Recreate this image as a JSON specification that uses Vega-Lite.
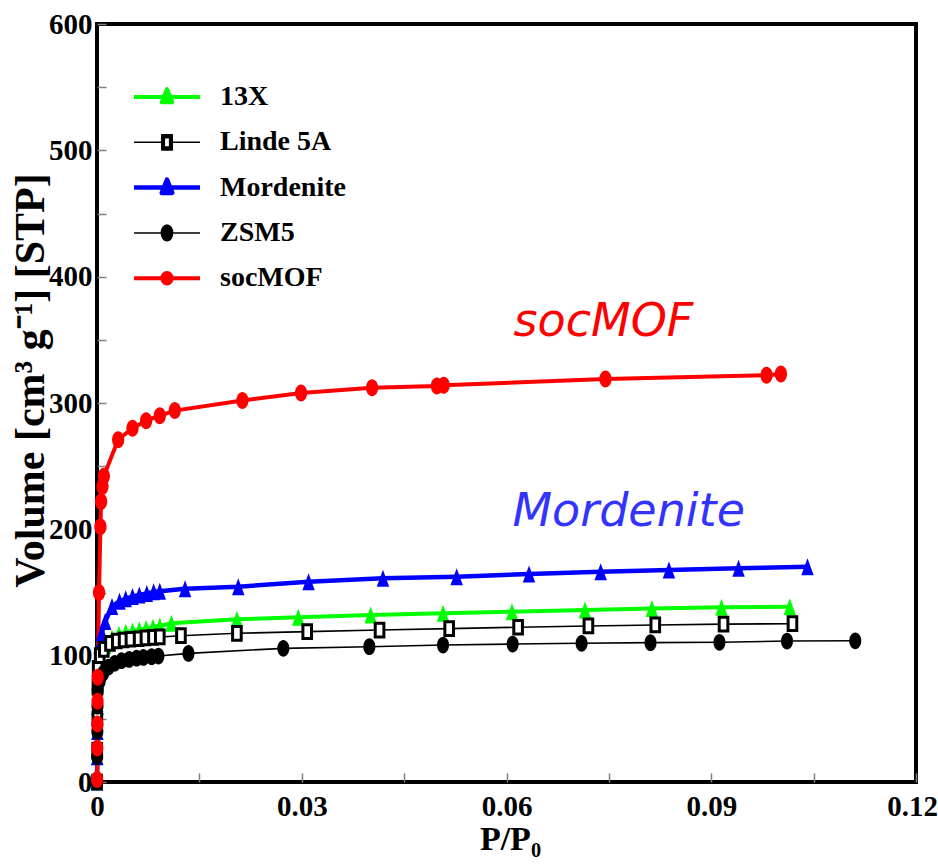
{
  "$schema": "https://vega.github.io/schema/vega-lite/v6.json",
  "width": 819,
  "height": 758,
  "autosize": {"type": "none"},
  "padding": {"left": 97, "top": 24, "right": 22, "bottom": 85},
  "background": "white",
  "config": {
    "view": {"stroke": "black", "strokeWidth": 4},
    "font": "Liberation Serif"
  },
  "data": {
    "values": [
      {"series": "13X", "x": 0.00001, "y": 0},
      {"series": "13X", "x": 0.00003, "y": 20},
      {"series": "13X", "x": 0.00005, "y": 40},
      {"series": "13X", "x": 0.00007, "y": 60},
      {"series": "13X", "x": 0.0001, "y": 80},
      {"series": "13X", "x": 0.0004, "y": 95},
      {"series": "13X", "x": 0.0012, "y": 108},
      {"series": "13X", "x": 0.0022, "y": 114},
      {"series": "13X", "x": 0.0032, "y": 117},
      {"series": "13X", "x": 0.0042, "y": 118.5},
      {"series": "13X", "x": 0.0052, "y": 119.5},
      {"series": "13X", "x": 0.0062, "y": 120.5},
      {"series": "13X", "x": 0.0072, "y": 121.5},
      {"series": "13X", "x": 0.0082, "y": 122.5},
      {"series": "13X", "x": 0.0092, "y": 123.5},
      {"series": "13X", "x": 0.0109, "y": 125.6},
      {"series": "13X", "x": 0.0205, "y": 128.8},
      {"series": "13X", "x": 0.0295, "y": 130.4},
      {"series": "13X", "x": 0.0401, "y": 132.2},
      {"series": "13X", "x": 0.0507, "y": 133.5},
      {"series": "13X", "x": 0.0608, "y": 134.8},
      {"series": "13X", "x": 0.0715, "y": 136.2},
      {"series": "13X", "x": 0.0813, "y": 137.4},
      {"series": "13X", "x": 0.0915, "y": 138.3},
      {"series": "13X", "x": 0.1015, "y": 138.8},

      {"series": "Linde 5A", "x": 0.00001, "y": 0},
      {"series": "Linde 5A", "x": 0.00003, "y": 25},
      {"series": "Linde 5A", "x": 0.00005, "y": 50},
      {"series": "Linde 5A", "x": 0.00007, "y": 75},
      {"series": "Linde 5A", "x": 0.0001, "y": 90},
      {"series": "Linde 5A", "x": 0.0004, "y": 100},
      {"series": "Linde 5A", "x": 0.001, "y": 105},
      {"series": "Linde 5A", "x": 0.0019, "y": 109.8},
      {"series": "Linde 5A", "x": 0.0029, "y": 111.6},
      {"series": "Linde 5A", "x": 0.0039, "y": 112.4},
      {"series": "Linde 5A", "x": 0.0049, "y": 113},
      {"series": "Linde 5A", "x": 0.0061, "y": 113.4},
      {"series": "Linde 5A", "x": 0.0071, "y": 114},
      {"series": "Linde 5A", "x": 0.0082, "y": 114.5},
      {"series": "Linde 5A", "x": 0.0092, "y": 114.8},
      {"series": "Linde 5A", "x": 0.0123, "y": 115.8},
      {"series": "Linde 5A", "x": 0.0205, "y": 117.7},
      {"series": "Linde 5A", "x": 0.0308, "y": 119},
      {"series": "Linde 5A", "x": 0.0414, "y": 120.3},
      {"series": "Linde 5A", "x": 0.0516, "y": 121.4},
      {"series": "Linde 5A", "x": 0.0617, "y": 122.5},
      {"series": "Linde 5A", "x": 0.072, "y": 123.5},
      {"series": "Linde 5A", "x": 0.0818, "y": 124.3},
      {"series": "Linde 5A", "x": 0.0918, "y": 125},
      {"series": "Linde 5A", "x": 0.1019, "y": 125.3},

      {"series": "Mordenite", "x": 0.00001, "y": 0},
      {"series": "Mordenite", "x": 0.00003, "y": 20},
      {"series": "Mordenite", "x": 0.00005, "y": 40},
      {"series": "Mordenite", "x": 0.00007, "y": 60},
      {"series": "Mordenite", "x": 0.0001, "y": 80},
      {"series": "Mordenite", "x": 0.0002, "y": 95},
      {"series": "Mordenite", "x": 0.0004, "y": 108},
      {"series": "Mordenite", "x": 0.0007, "y": 118},
      {"series": "Mordenite", "x": 0.0012, "y": 127},
      {"series": "Mordenite", "x": 0.0022, "y": 139},
      {"series": "Mordenite", "x": 0.0033, "y": 143},
      {"series": "Mordenite", "x": 0.0042, "y": 145},
      {"series": "Mordenite", "x": 0.0052, "y": 146.8},
      {"series": "Mordenite", "x": 0.0062, "y": 148},
      {"series": "Mordenite", "x": 0.0073, "y": 149.3},
      {"series": "Mordenite", "x": 0.0083, "y": 150.5},
      {"series": "Mordenite", "x": 0.0092, "y": 151},
      {"series": "Mordenite", "x": 0.0129, "y": 153},
      {"series": "Mordenite", "x": 0.0207, "y": 154.6},
      {"series": "Mordenite", "x": 0.031, "y": 158.6},
      {"series": "Mordenite", "x": 0.0419, "y": 161.2},
      {"series": "Mordenite", "x": 0.0527, "y": 162.5},
      {"series": "Mordenite", "x": 0.0633, "y": 164.6},
      {"series": "Mordenite", "x": 0.0738, "y": 166.5},
      {"series": "Mordenite", "x": 0.0838, "y": 167.8},
      {"series": "Mordenite", "x": 0.094, "y": 169.2},
      {"series": "Mordenite", "x": 0.1041, "y": 170.4},

      {"series": "ZSM5", "x": 0.00001, "y": 0},
      {"series": "ZSM5", "x": 0.00003, "y": 20},
      {"series": "ZSM5", "x": 0.00005, "y": 40},
      {"series": "ZSM5", "x": 0.00007, "y": 60},
      {"series": "ZSM5", "x": 0.0001, "y": 72},
      {"series": "ZSM5", "x": 0.0004, "y": 80},
      {"series": "ZSM5", "x": 0.0009, "y": 86},
      {"series": "ZSM5", "x": 0.0017, "y": 91},
      {"series": "ZSM5", "x": 0.0026, "y": 94},
      {"series": "ZSM5", "x": 0.0036, "y": 96},
      {"series": "ZSM5", "x": 0.0047, "y": 97},
      {"series": "ZSM5", "x": 0.0058, "y": 98},
      {"series": "ZSM5", "x": 0.0068, "y": 98.6},
      {"series": "ZSM5", "x": 0.008, "y": 99.2},
      {"series": "ZSM5", "x": 0.009, "y": 99.7},
      {"series": "ZSM5", "x": 0.0134, "y": 101.8},
      {"series": "ZSM5", "x": 0.0273, "y": 105.8},
      {"series": "ZSM5", "x": 0.0399, "y": 107.1},
      {"series": "ZSM5", "x": 0.0507, "y": 108.4},
      {"series": "ZSM5", "x": 0.0609, "y": 109.2},
      {"series": "ZSM5", "x": 0.071, "y": 109.8},
      {"series": "ZSM5", "x": 0.0811, "y": 110.3},
      {"series": "ZSM5", "x": 0.0912, "y": 110.6},
      {"series": "ZSM5", "x": 0.1011, "y": 111.6},
      {"series": "ZSM5", "x": 0.1111, "y": 111.8},

      {"series": "socMOF", "x": 0.00002, "y": 2},
      {"series": "socMOF", "x": 0.00004, "y": 27},
      {"series": "socMOF", "x": 0.00006, "y": 46},
      {"series": "socMOF", "x": 0.00008, "y": 64},
      {"series": "socMOF", "x": 0.0001, "y": 83},
      {"series": "socMOF", "x": 0.0003, "y": 150},
      {"series": "socMOF", "x": 0.0005, "y": 202},
      {"series": "socMOF", "x": 0.0006, "y": 222},
      {"series": "socMOF", "x": 0.0008, "y": 234},
      {"series": "socMOF", "x": 0.001, "y": 242},
      {"series": "socMOF", "x": 0.0031, "y": 271},
      {"series": "socMOF", "x": 0.0052, "y": 280},
      {"series": "socMOF", "x": 0.0072, "y": 286},
      {"series": "socMOF", "x": 0.0092, "y": 290},
      {"series": "socMOF", "x": 0.0114, "y": 294},
      {"series": "socMOF", "x": 0.0213, "y": 302},
      {"series": "socMOF", "x": 0.0299, "y": 308},
      {"series": "socMOF", "x": 0.0403, "y": 312},
      {"series": "socMOF", "x": 0.0498, "y": 313.5},
      {"series": "socMOF", "x": 0.0508, "y": 314},
      {"series": "socMOF", "x": 0.0745, "y": 319},
      {"series": "socMOF", "x": 0.0981, "y": 322},
      {"series": "socMOF", "x": 0.1002, "y": 323}
    ]
  },
  "layer": [
    {
      "encoding": {
        "x": {
          "field": "x",
          "type": "quantitative",
          "scale": {"domain": [0, 0.12], "nice": false, "zero": false},
          "axis": {
            "values": [0, 0.015, 0.03, 0.045, 0.06, 0.075, 0.09, 0.105, 0.12],
            "format": ".2~f",
            "labelExpr": "round(datum.value * 1000) % 30 === 0 ? datum.label : ''",
            "domain": false,
            "grid": false,
            "tickSize": -9,
            "tickWidth": 1.5,
            "tickColor": "#808080",
            "labelPadding": 19,
            "labelFont": "Liberation Serif",
            "labelFontWeight": "bold",
            "labelFontSize": 29,
            "labelColor": "black",
            "labelFlush": false,
            "labelOverlap": false,
            "labelOffset": {"condition": {"test": "datum.value > 0.11", "value": -4}, "value": 0},
            "title": "P/P₀",
            "titleFont": "Liberation Serif",
            "titleFontWeight": "bold",
            "titleFontSize": 34,
            "titleColor": "black",
            "titleX": 413,
            "titleY": 67,
            "titleAlign": "center",
            "titleBaseline": "alphabetic",
            "encode": {
              "ticks": {
                "update": {
                  "y2": {"signal": "round(datum.value * 1000) % 30 === 0 ? -9 : -6"},
                  "stroke": {"signal": "round(datum.value * 1000) % 30 === 0 ? '#808080' : '#ff5050'"}
                }
              }
            }
          }
        },
        "y": {
          "field": "y",
          "type": "quantitative",
          "scale": {"domain": [0, 600], "nice": false, "zero": false},
          "axis": {
            "values": [0, 50, 100, 150, 200, 250, 300, 350, 400, 450, 500, 550, 600],
            "format": "d",
            "labelExpr": "datum.value % 100 === 0 ? datum.label : ''",
            "domain": false,
            "grid": false,
            "tickSize": -9,
            "tickWidth": 1.5,
            "tickColor": "#808080",
            "labelPadding": 14,
            "labelFont": "Liberation Serif",
            "labelFontWeight": "bold",
            "labelFontSize": 29,
            "labelColor": "black",
            "labelFlush": false,
            "labelOverlap": false,
            "title": "Volume [cm³ g⁻¹] [STP]",
            "titleFont": "Liberation Serif",
            "titleFontWeight": "bold",
            "titleFontSize": 42,
            "titleColor": "black",
            "titleAngle": -90,
            "titleX": -67,
            "titleY": 356,
            "titleAlign": "center",
            "titleBaseline": "middle",
            "encode": {
              "ticks": {
                "update": {
                  "x2": {"signal": "datum.value % 100 === 0 ? 9 : 6"},
                  "stroke": {"signal": "datum.value % 100 === 0 ? '#808080' : '#ff5050'"}
                }
              }
            }
          }
        }
      },
      "layer": [
        {
          "transform": [{"filter": "datum.series === '13X'"}],
          "mark": {"type": "line", "strokeWidth": 4, "strokeCap": "butt"},
          "encoding": {
            "color": {
              "field": "series",
              "type": "nominal",
              "scale": {
                "domain": ["13X", "Linde 5A", "Mordenite", "ZSM5", "socMOF"],
                "range": ["#00ff00", "#000000", "#0000ff", "#000000", "#ff0000"]
              },
              "legend": {
                "orient": "none",
                "legendX": 35,
                "legendY": 58,
                "title": null,
                "padding": 0,
                "symbolSize": 4356,
                "clipHeight": 30,
                "rowPadding": 15.3,
                "labelOffset": 18,
                "labelFont": "Liberation Serif",
                "labelFontWeight": "bold",
                "labelFontSize": 28,
                "labelColor": "black",
                "labelLimit": 300,
                "encode": {
                  "symbols": {
                    "update": {
                      "x": {"value": 35},
                      "shape": {"signal": "datum.value === '13X' || datum.value === 'Mordenite' ? 'M-1,0L1,0M0,-0.24L0.16,0.16L-0.16,0.16Z' : datum.value === 'Linde 5A' ? 'M-1,0L-0.16,0M0.16,0L1,0M-0.16,-0.23L0.16,-0.23L0.16,0.23L-0.16,0.23ZM-0.08,-0.14L-0.08,0.14L0.08,0.14L0.08,-0.14Z' : datum.value === 'ZSM5' ? 'M-1,0L1,0M-0.17,0A0.17,0.24 0 1 0 0.17,0A0.17,0.24 0 1 0 -0.17,0Z' : 'M-1,0L1,0M-0.14,0A0.14,0.16 0 1 0 0.14,0A0.14,0.16 0 1 0 -0.14,0Z'"},
                      "fill": {"signal": "datum.value === '13X' ? '#00ff00' : datum.value === 'Mordenite' ? '#0000ff' : datum.value === 'socMOF' ? '#ff0000' : '#000000'"},
                      "stroke": {"signal": "datum.value === '13X' ? '#00ff00' : datum.value === 'Mordenite' ? '#0000ff' : datum.value === 'socMOF' ? '#ff0000' : '#000000'"},
                      "strokeWidth": {"signal": "datum.value === '13X' || datum.value === 'socMOF' ? 4 : datum.value === 'Mordenite' ? 4.5 : 1.5"},
                      "strokeJoin": {"value": "round"},
                      "opacity": {"value": 1},
                      "fillOpacity": {"value": 1},
                      "strokeOpacity": {"value": 1},
                      "size": {"value": 4356}
                    }
                  },
                  "labels": {
                    "update": {
                      "x": {"value": 88}
                    }
                  }
                }
              }
            }
          }
        },
        {
          "transform": [{"filter": "datum.series === 'Linde 5A'"}],
          "mark": {"type": "line", "strokeWidth": 1.6, "strokeCap": "butt"},
          "encoding": {"color": {"field": "series", "type": "nominal"}}
        },
        {
          "transform": [{"filter": "datum.series === 'Mordenite'"}],
          "mark": {"type": "line", "strokeWidth": 4.5, "strokeCap": "butt"},
          "encoding": {"color": {"field": "series", "type": "nominal"}}
        },
        {
          "transform": [{"filter": "datum.series === 'ZSM5'"}],
          "mark": {"type": "line", "strokeWidth": 1.6, "strokeCap": "butt"},
          "encoding": {"color": {"field": "series", "type": "nominal"}}
        },
        {
          "transform": [{"filter": "datum.series === 'socMOF'"}],
          "mark": {"type": "line", "strokeWidth": 4, "strokeCap": "butt"},
          "encoding": {"color": {"field": "series", "type": "nominal"}}
        },
        {
          "transform": [{"filter": "datum.series === '13X'"}],
          "mark": {"type": "point", "filled": true, "shape": "M0,-1L0.73,1L-0.73,1Z", "size": 289, "fill": "#00ff00", "opacity": 1, "strokeWidth": 0}
        },
        {
          "transform": [{"filter": "datum.series === 'Mordenite'"}],
          "mark": {"type": "point", "filled": true, "shape": "M0,-1L0.73,1L-0.73,1Z", "size": 289, "fill": "#0000ff", "opacity": 1, "strokeWidth": 0}
        },
        {
          "transform": [{"filter": "datum.series === 'Linde 5A'"}],
          "mark": {"type": "point", "filled": false, "shape": "M-0.63,-1L0.63,-1L0.63,1L-0.63,1Z", "size": 188, "fill": "#ffffff", "fillOpacity": 1, "stroke": "#000000", "strokeWidth": 3, "opacity": 1}
        },
        {
          "transform": [{"filter": "datum.series === 'ZSM5'"}],
          "mark": {"type": "point", "filled": true, "shape": "M-0.72,0A0.72,1 0 1 0 0.72,0A0.72,1 0 1 0 -0.72,0Z", "size": 280, "fill": "#000000", "opacity": 1, "strokeWidth": 0}
        },
        {
          "transform": [{"filter": "datum.series === 'socMOF'"}],
          "mark": {"type": "point", "filled": true, "shape": "M-0.72,0A0.72,1 0 1 0 0.72,0A0.72,1 0 1 0 -0.72,0Z", "size": 289, "fill": "#ff0000", "opacity": 1, "strokeWidth": 0}
        }
      ]
    },
    {
      "data": {"values": [{"label": "socMOF"}]},
      "mark": {"type": "text", "font": "DejaVu Sans", "fontStyle": "italic", "fontSize": 46, "color": "#ff0000", "align": "center", "baseline": "alphabetic"},
      "encoding": {
        "x": {"datum": 0.0742},
        "y": {"datum": 353},
        "text": {"field": "label"}
      }
    },
    {
      "data": {"values": [{"label": "Mordenite"}]},
      "mark": {"type": "text", "font": "DejaVu Sans", "fontStyle": "italic", "fontSize": 46, "color": "#3333ff", "align": "center", "baseline": "alphabetic"},
      "encoding": {
        "x": {"datum": 0.0779},
        "y": {"datum": 202.6},
        "text": {"field": "label"}
      }
    }
  ]
}
